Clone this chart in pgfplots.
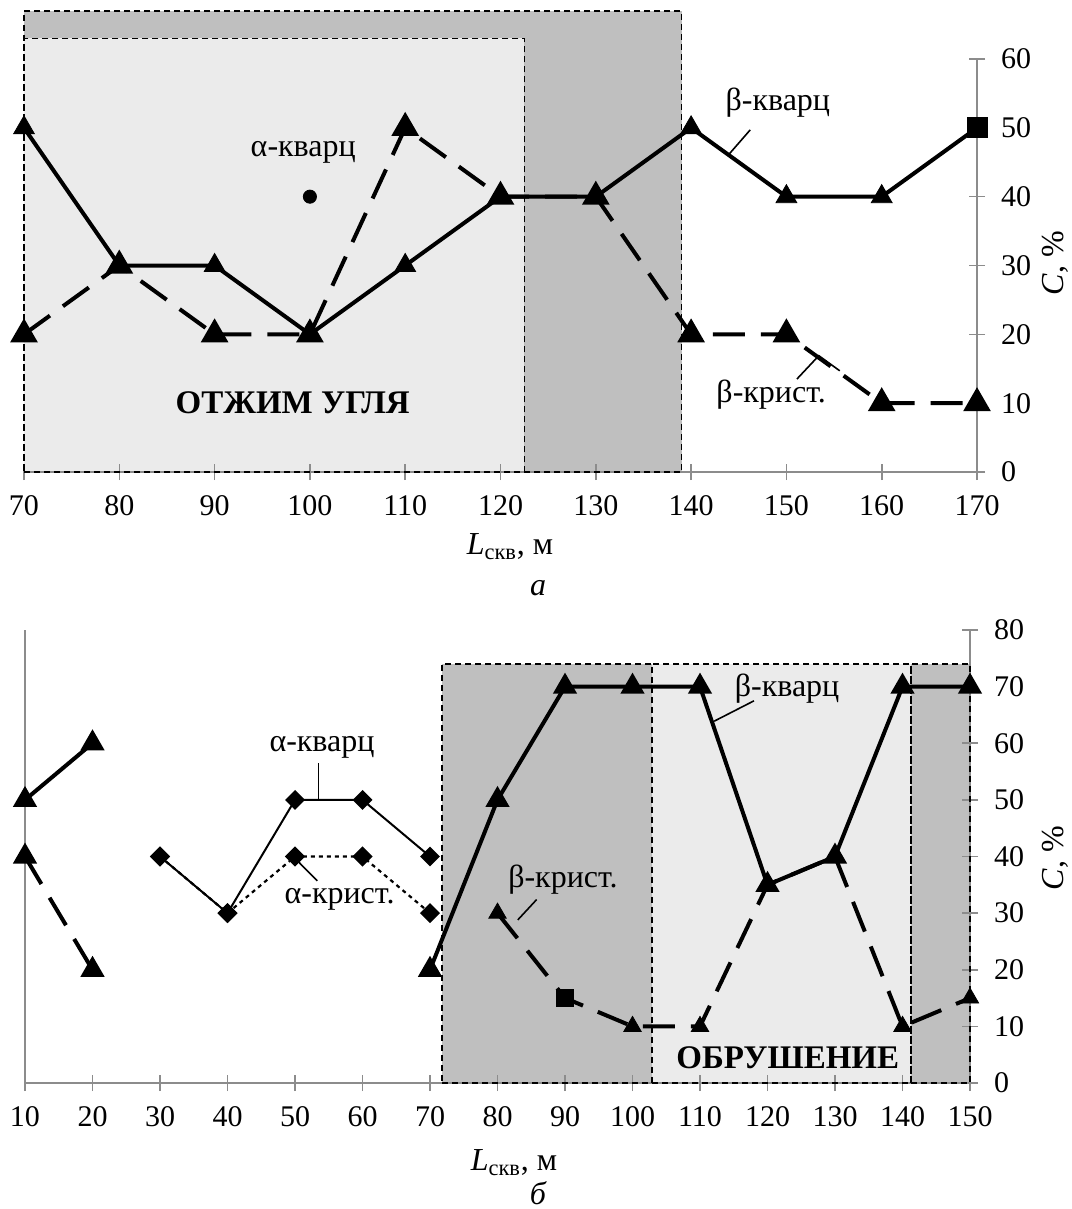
\documentclass[border=0pt]{standalone}
\usepackage{fontspec}
\setmainfont{Liberation Serif}
\usepackage{pgfplots}
\pgfplotsset{compat=1.18}
\definecolor{lightreg}{gray}{0.92}
\definecolor{darkreg}{gray}{0.75}
\definecolor{axgray}{gray}{0.55}
\pgfplotsset{
  mystyle/.style={
    scale only axis, clip=false, set layers,
    axis x line*=bottom, axis y line*=right,
    axis line style={axgray, line width=0.9pt},
    tick align=center, major tick length=8pt,
    tick style={axgray, line width=0.8pt},
    /pgf/number format/assume math mode=true,
    ticklabel style={font=\fontsize{15}{15}\selectfont},
    xticklabel style={anchor=center, yshift=-13pt},
    yticklabel style={anchor=west, xshift=4.5pt},
  },
  solidl/.style={black, line width=2pt},
  dashl/.style={black, line width=2pt, dash pattern=on 16pt off 8pt},
  reg/.style={draw=none, on layer=axis background},
  border/.style={black, line width=0.8pt, dash pattern=on 3pt off 2pt},
}
\tikzset{lead/.style={black, line width=0.8pt}, tk/.style={axgray, line width=0.8pt}}
\newcommand{\lab}{\fontsize{16}{16}\selectfont}
\newcommand{\blab}{\fontsize{16.5}{16.5}\selectfont\bfseries}
\begin{document}
\begin{tikzpicture}
% ---------------- panel a ----------------
\begin{axis}[mystyle,
  at={(12pt,-236pt)}, anchor=south west,
  width=476.5pt, height=206.5pt,
  xmin=70, xmax=170, ymin=0, ymax=60,
  xtick={70,80,...,170}, ytick={0,10,...,60},
]
% regions
\addplot[reg, fill=darkreg] coordinates {(70,0) (139,0) (139,67) (70,67)} -- cycle;
\addplot[reg, fill=lightreg] coordinates {(70,0) (122.5,0) (122.5,63) (70,63)} -- cycle;
\addplot[border] coordinates {(70,0) (139,0) (139,67) (70,67) (70,0)};
\addplot[border] coordinates {(70,0) (122.5,0) (122.5,63) (70,63) (70,0)};
% left ticks
\pgfplotsinvokeforeach{10,20,30,40,50,60}{
  \draw[tk] (axis cs:70,#1) ++(-4pt,0) -- ++(8pt,0);
}
% beta-cryst (dashed)
\addplot[dashl, mark=triangle*, mark size=6pt, mark options={solid}] coordinates {
(70,20) (80,30) (90,20) (100,20) (110,50) (120,40) (130,40) (140,20) (150,20) (160,10) (170,10)};
% beta-quartz (solid)
\addplot[solidl] coordinates {
(70,50) (80,30) (90,30) (100,20) (110,30) (120,40) (130,40) (140,50) (150,40) (160,40) (170,50)};
\addplot[only marks, mark=triangle*, mark size=6pt] coordinates {
(70,50) (80,30) (90,30) (100,20) (110,30) (120,40) (130,40) (140,50) (150,40) (160,40)};
\addplot[only marks, mark=square*, mark size=5pt] coordinates {(170,50)};
% alpha-quartz
\addplot[only marks, mark=*, mark size=3.3pt] coordinates {(100,40)};
% annotations
\node[font=\lab] at (axis cs:99.3,46.4) {α-кварц};
\node[font=\lab] at (axis cs:149.1,53.6) {β-кварц};
\draw[lead] (axis cs:146.2,49.7) -- (axis cs:144.0,46.2);
\node[font=\lab] at (axis cs:148.4,11.2) {β-крист.};
\draw[lead] (axis cs:151.1,13.5) -- (axis cs:153.4,16.9) -- (axis cs:155.6,14.7);
\node[font=\blab] at (axis cs:98.2,10.0) {ОТЖИМ УГЛЯ};
\end{axis}
\node[font=\lab] at (255pt,-273.5pt) {{\itshape L}\textsubscript{скв}, м};
\node[font=\lab\itshape] at (269pt,-294pt) {а};
\node[font=\lab, rotate=90] at (527.5pt,-131.5pt) {{\itshape C}, \%};
% ---------------- panel b ----------------
\begin{axis}[mystyle,
  at={(12.5pt,-541.5pt)}, anchor=south west,
  width=472.5pt, height=226.5pt,
  xmin=10, xmax=150, ymin=0, ymax=80,
  xtick={10,20,...,150}, ytick={0,10,...,80},
]
\addplot[reg, fill=darkreg] coordinates {(71.8,0) (102.9,0) (102.9,74) (71.8,74)} -- cycle;
\addplot[reg, fill=lightreg] coordinates {(102.9,0) (141.3,0) (141.3,74) (102.9,74)} -- cycle;
\addplot[reg, fill=darkreg] coordinates {(141.3,0) (150,0) (150,74) (141.3,74)} -- cycle;
\addplot[border] coordinates {(71.8,0) (102.9,0) (102.9,74) (71.8,74) (71.8,0)};
\addplot[border] coordinates {(102.9,0) (141.3,0) (141.3,74) (102.9,74) (102.9,0)};
\addplot[border] coordinates {(141.3,0) (150,0) (150,74) (141.3,74) (141.3,0)};
% left axis
\draw[axgray, line width=0.9pt] (axis cs:10,0) -- (axis cs:10,80);
\pgfplotsinvokeforeach{0,10,20,30,40,50,60,70,80}{
  \draw[tk] (axis cs:10,#1) ++(-4pt,0) -- ++(8pt,0);
}
% alpha-cryst (dotted)
\addplot[black, line width=1.1pt, dash pattern=on 2pt off 2pt, mark=square*, mark size=3pt, mark options={solid, rotate=45}] coordinates {
(30,40) (40,30) (50,40) (60,40) (70,30)};
% alpha-quartz (thin solid)
\addplot[black, line width=1pt, mark=square*, mark size=3pt, mark options={rotate=45}] coordinates {
(30,40) (40,30) (50,50) (60,50) (70,40)};
% beta-cryst (dashed)
\addplot[dashl, mark=triangle*, mark size=5pt, mark options={solid}] coordinates {(10,40) (20,20)};
\addplot[dashl] coordinates {(80,30) (90,15) (100,10) (110,10) (120,35) (130,40) (140,10) (150,15)};
\addplot[only marks, mark=triangle*, mark size=5pt] coordinates {(80,30) (100,10) (110,10) (120,35) (130,40) (140,10) (150,15)};
\addplot[only marks, mark=square*, mark size=4.2pt] coordinates {(90,15)};
% beta-quartz (solid)
\addplot[solidl, mark=triangle*, mark size=5pt] coordinates {(10,50) (20,60)};
\addplot[solidl, mark=triangle*, mark size=5pt] coordinates {
(70,20) (80,50) (90,70) (100,70) (110,70) (120,35) (130,40) (140,70) (150,70)};
% annotations
\node[font=\lab] at (axis cs:54.0,59.2) {α-кварц};
\draw[lead] (axis cs:53.5,56.5) -- (axis cs:53.5,49.9);
\node[font=\lab] at (axis cs:56.6,32.4) {α-крист.};
\draw[lead] (axis cs:53.3,35.7) -- (axis cs:50.4,39.2);
\node[font=\lab] at (axis cs:89.7,36.0) {β-крист.};
\draw[lead] (axis cs:85.8,32.4) -- (axis cs:83.0,28.8);
\node[font=\lab] at (axis cs:122.9,69.7) {β-кварц};
\draw[lead] (axis cs:118.0,67.5) -- (axis cs:112.1,63.9);
\node[font=\blab] at (axis cs:123.0,4.5) {ОБРУШЕНИЕ};
\end{axis}
\node[font=\lab] at (257pt,-581.5pt) {{\itshape L}\textsubscript{скв}, м};
\node[font=\lab\itshape] at (269pt,-596.5pt) {б};
\node[font=\lab, rotate=90] at (527.5pt,-429pt) {{\itshape C}, \%};
\pgfresetboundingbox
\useasboundingbox (0,0) rectangle (535.5pt,-604.5pt);
\end{tikzpicture}
\end{document}
